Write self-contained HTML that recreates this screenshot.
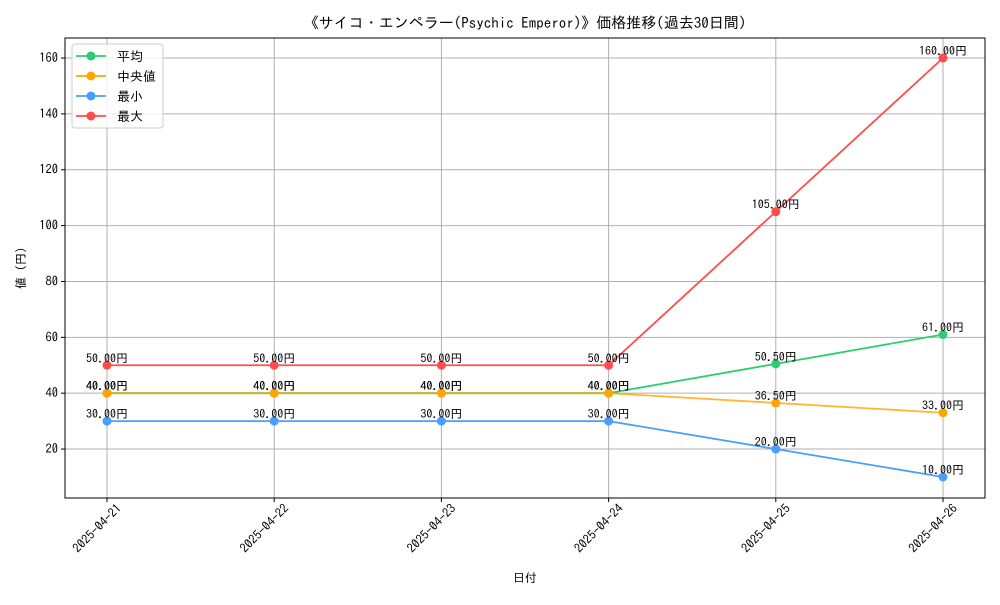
<!DOCTYPE html>
<html><head><meta charset="utf-8"><style>
body{margin:0;background:#fff}
svg text{font-family:"IPAGothic","Liberation Sans","Noto Sans CJK JP",sans-serif;fill:#000}
</style></head><body>
<svg id="c" width="1000" height="600" xmlns="http://www.w3.org/2000/svg"></svg>
<script>
const categories=["2025-04-21","2025-04-22","2025-04-23","2025-04-24","2025-04-25","2025-04-26"];
const avgValues=[40,40,40,40,50.5,61];
const medianValues=[40,40,40,40,36.5,33];
const minValues=[30,30,30,30,20,10];
const maxValues=[50,50,50,50,105,160];
const yTicks=[20,40,60,80,100,120,140,160];
const seriesNames=["平均","中央値","最小","最大"];
const NS="http://www.w3.org/2000/svg";
const svg=document.getElementById('c');
const L=65,R=985,T=38,B=498;
const x=i=>107+i*167.2;
const y=v=>504.9-v*2.793;
function mk(t,a,txt){const e=document.createElementNS(NS,t);for(const k in a)e.setAttribute(k,a[k]);if(txt!==undefined)e.textContent=txt;svg.appendChild(e);return e;}
const title=mk('text',{x:525,y:28,'text-anchor':'middle','font-size':15},"《サイコ・エンペラー(Psychic Emperor)》価格推移(過去30日間)");


categories.forEach((c,i)=>{
 const g=mk('line',{x1:x(i),x2:x(i),y1:T,y2:B,stroke:'#b0b0b0','stroke-width':1});
 
 
 mk('line',{x1:x(i),x2:x(i),y1:B,y2:B+4,stroke:'#000'});
 const t=mk('text',{x:0,y:0,'font-size':12.5,'text-anchor':'end',transform:`translate(${x(i)+9},${B+5}) rotate(-45)`,dy:'0.7em'},c);
 
 
});
yTicks.forEach(v=>{
 const g=mk('line',{x1:L,x2:R,y1:y(v),y2:y(v),stroke:'#b0b0b0','stroke-width':1});
 
 
 mk('line',{x1:L-4,x2:L,y1:y(v),y2:y(v),stroke:'#000'});
 const t=mk('text',{x:L-7,y:y(v)+4,'font-size':12.5,'text-anchor':'end'},v);
 
 
});
const frame=mk('rect',{x:L,y:T,width:R-L,height:B-T,fill:'none',stroke:'#000','stroke-width':1});


const xt=mk('text',{x:525,y:582,'font-size':12,'text-anchor':'middle'},"日付");


const yt=mk('text',{x:0,y:0,'font-size':12,'text-anchor':'middle',transform:'translate(25,268) rotate(-90)'},"値 (円)");


const series=[[avgValues,'#2ecc71','avg'],[medianValues,'#ffa500','median'],[minValues,'#4a9eff','min'],[maxValues,'#ff4c4c','max']];
series.forEach(([vals,col,nm])=>{
 const p=mk('polyline',{points:vals.map((v,i)=>x(i)+','+y(v)).join(' '),fill:'none',stroke:col,'stroke-width':1.8,'stroke-opacity':nm==='median'?0.8:1});
 
 
 vals.forEach((v,i)=>{
  const c=mk('circle',{cx:x(i),cy:y(v),r:4.5,fill:col});
  
  
  const t=mk('text',{x:x(i),y:y(v)-3,'font-size':12,'text-anchor':'middle'},v.toFixed(2)+"円");
  
  
 });
});
const lg=mk('rect',{x:72,y:44,width:91,height:84,fill:'#fff','fill-opacity':0.8,stroke:'#ccc',rx:3});


series.forEach(([v,col,nm],k)=>{
 const yy=56+k*20;
 mk('line',{x1:76,x2:106,y1:yy,y2:yy,stroke:col,'stroke-width':1.8});
 mk('circle',{cx:91,cy:yy,r:4.5,fill:col});
 const t=mk('text',{x:117,y:yy+5,'font-size':13},seriesNames[k]);
 
 
});
</script>
</body></html>
